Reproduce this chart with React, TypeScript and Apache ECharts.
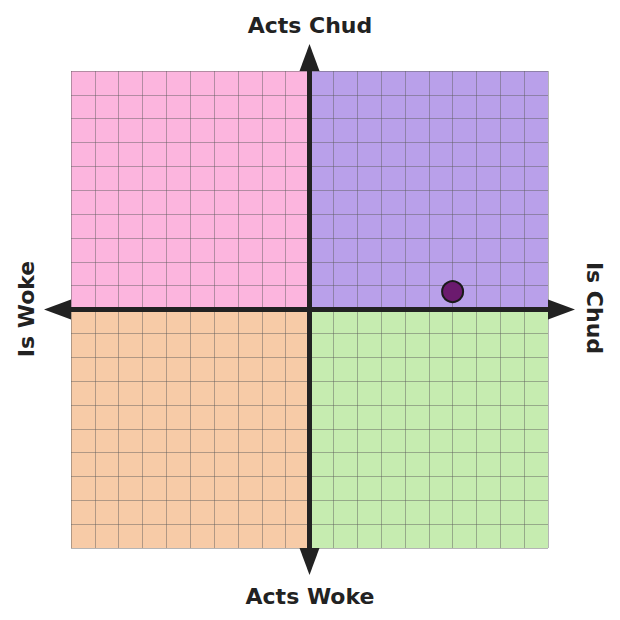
import React, { useRef, useEffect } from "react";
import * as echarts from "echarts";

const axisMin = -10;
const axisMax = 10;
const axisStep = 1;
const pointValues = [[6, 0.75]];
const quadrantNames = ["Woke-Chud", "Chud-Chud", "Woke-Woke", "Chud-Woke"];
const quadrantBoxes = [
  [[-10, 10], [0, 0]],
  [[0, 10], [10, 0]],
  [[-10, 0], [0, -10]],
  [[0, 0], [10, -10]],
];
const quadrantColors = ["#fcb5de", "#b9a0ea", "#f7cba7", "#c6ecb0"];
const labelTop = "Acts Chud";
const labelBottom = "Acts Woke";
const labelLeft = "Is Woke";
const labelRight = "Is Chud";

const App = function () {
  const chart = useRef(null);
  useEffect(() => {
    if (!chart.current) return;
    let myChart = echarts.init(chart.current as any, undefined, { renderer: "svg" });
    const axisCommon = {
      type: "value",
      min: axisMin,
      max: axisMax,
      interval: axisStep,
      z: 5,
      axisLabel: { show: false },
      axisTick: { show: false },
      axisLine: {
        show: true,
        onZero: true,
        symbol: ["triangle", "triangle"],
        symbolSize: [20, 27],
        symbolOffset: [-13.5, 13.5],
        lineStyle: { color: "#222", width: 5 },
      },
      splitLine: {
        show: true,
        lineStyle: { color: "rgba(90,90,90,0.45)", width: 1 },
      },
    };
    const textStyle = {
      fontFamily: "DejaVu Sans",
      fontWeight: "bold",
      fontSize: 22,
      fill: "#222",
      textAlign: "center",
      textVerticalAlign: "middle",
    };
    let option = {
      animation: false,
      grid: { left: 71, top: 71, width: 477, height: 477 },
      xAxis: axisCommon,
      yAxis: axisCommon,
      series: [
        {
          type: "scatter",
          z: 1,
          data: [],
          markArea: {
            silent: true,
            data: quadrantBoxes.map((b, i) => [
              {
                name: quadrantNames[i],
                coord: b[0],
                itemStyle: { color: quadrantColors[i], opacity: 1 },
                label: { show: false },
              },
              { coord: b[1] },
            ]),
          },
        },
        {
          type: "scatter",
          z: 10,
          data: pointValues,
          symbolSize: 21,
          itemStyle: { color: "#6b1a6e", borderColor: "#1a1a1a", borderWidth: 2, opacity: 1 },
        },
      ],
      graphic: [
        { type: "text", x: 310, y: 25, style: { ...textStyle, text: labelTop } },
        { type: "text", x: 310, y: 596, style: { ...textStyle, text: labelBottom } },
        { type: "text", x: 26, y: 309, rotation: Math.PI / 2, style: { ...textStyle, text: labelLeft } },
        { type: "text", x: 594, y: 308, rotation: -Math.PI / 2, style: { ...textStyle, text: labelRight } },
      ],
    };
    myChart.setOption(option as any);
    return () => {
      myChart.dispose();
    };
  }, []);
  return (
    <div
      ref={chart}
      style={{ position: "fixed", left: 0, top: 0, width: "620px", height: "620px", background: "#fff" }}
    ></div>
  );
};
export default App;
